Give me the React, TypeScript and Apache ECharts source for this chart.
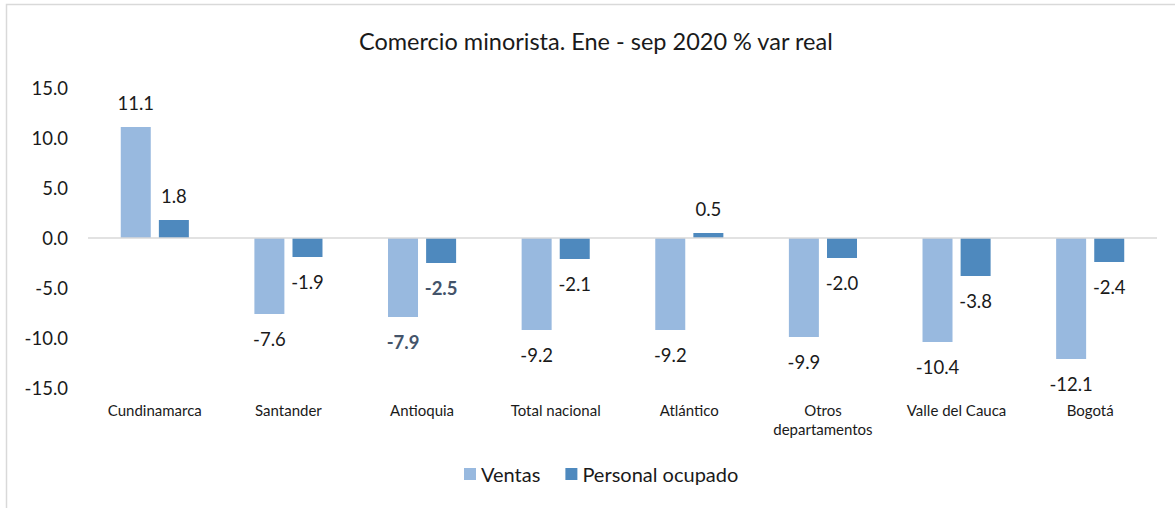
import React, { useEffect, useRef } from "react";
import * as echarts from "echarts";

const categories = [
  "Cundinamarca",
  "Santander",
  "Antioquia",
  "Total nacional",
  "Atlántico",
  "Otros\ndepartamentos",
  "Valle del Cauca",
  "Bogotá",
];
const ventas = [11.1, -7.6, -7.9, -9.2, -9.2, -9.9, -10.4, -12.1];
const personal = [1.8, -1.9, -2.5, -2.1, 0.5, -2.0, -3.8, -2.4];
const highlightIndex = 2;
const titleText = "Comercio minorista. Ene - sep 2020 % var real";
const seriesNames = ["Ventas", "Personal ocupado"];

const FONT = "Lato, 'Open Sans', sans-serif";

export default function App() {
  const ref = useRef<HTMLDivElement>(null);
  useEffect(() => {
    document.body.style.margin = "0";
    if (!ref.current) return;
    const chart = echarts.init(ref.current, null, { renderer: "svg" });
    const mkData = (arr: number[]) =>
      arr.map((v, i) =>
        i === highlightIndex
          ? { value: v, label: { fontWeight: "bold", color: "#44546A" } }
          : { value: v }
      );
    const labelCfg = {
      show: true,
      position: "outside",
      distance: 15,
      fontFamily: FONT,
      fontSize: 18.5,
      color: "#1a1a1a",
      formatter: (p: any) => Number(p.value).toFixed(1),
    };
    chart.setOption({
      animation: false,
      textStyle: { fontFamily: FONT },
      title: {
        text: titleText,
        left: 354,
        top: 24,
        textStyle: { fontFamily: FONT, fontSize: 23.5, fontWeight: "normal", color: "#1a1a1a" },
      },
      legend: {
        bottom: 19,
        left: 459,
        itemWidth: 12,
        itemHeight: 12,
        itemGap: 25,
        icon: "rect",
        textStyle: { fontFamily: FONT, fontSize: 20, color: "#1a1a1a" },
        data: seriesNames,
      },
      grid: { left: 88, right: 18, top: 88, bottom: 120 },
      xAxis: {
        type: "category",
        data: categories,
        axisLine: { show: false, onZero: false },
        axisTick: { show: false },
        axisLabel: {
          fontFamily: FONT,
          fontSize: 15,
          color: "#1a1a1a",
          margin: 12,
          interval: 0,
          lineHeight: 19,
        },
      },
      yAxis: {
        type: "value",
        min: -15,
        max: 15,
        interval: 5,
        axisLine: { show: false },
        axisTick: { show: false },
        splitLine: { show: false },
        axisLabel: {
          fontFamily: FONT,
          fontSize: 18.5,
          color: "#1a1a1a",
          margin: 20,
          formatter: (v: number) => v.toFixed(1),
        },
      },
      graphic: [
        {
          type: "rect",
          shape: { x: 6.5, y: 4.5, width: 1200, height: 540 },
          style: { fill: "none", stroke: "#d9d9d9", lineWidth: 1.5 },
          silent: true,
        },
      ],
      series: [
        {
          name: seriesNames[0],
          type: "bar",
          data: mkData(ventas),
          barWidth: 30,
          barGap: "27%",
          itemStyle: { color: "#98B9DF" },
          label: labelCfg,
          markLine: {
            silent: true,
            symbol: "none",
            label: { show: false },
            lineStyle: { color: "#d9d9d9", type: "solid", width: 1.5 },
            data: [{ yAxis: 0 }],
          },
        },
        {
          name: seriesNames[1],
          type: "bar",
          data: mkData(personal),
          barWidth: 30,
          barGap: "27%",
          itemStyle: { color: "#4E89BE" },
          label: labelCfg,
        },
      ],
    });
    return () => chart.dispose();
  }, []);
  return <div ref={ref} style={{ width: 1175, height: 508 }} />;
}
